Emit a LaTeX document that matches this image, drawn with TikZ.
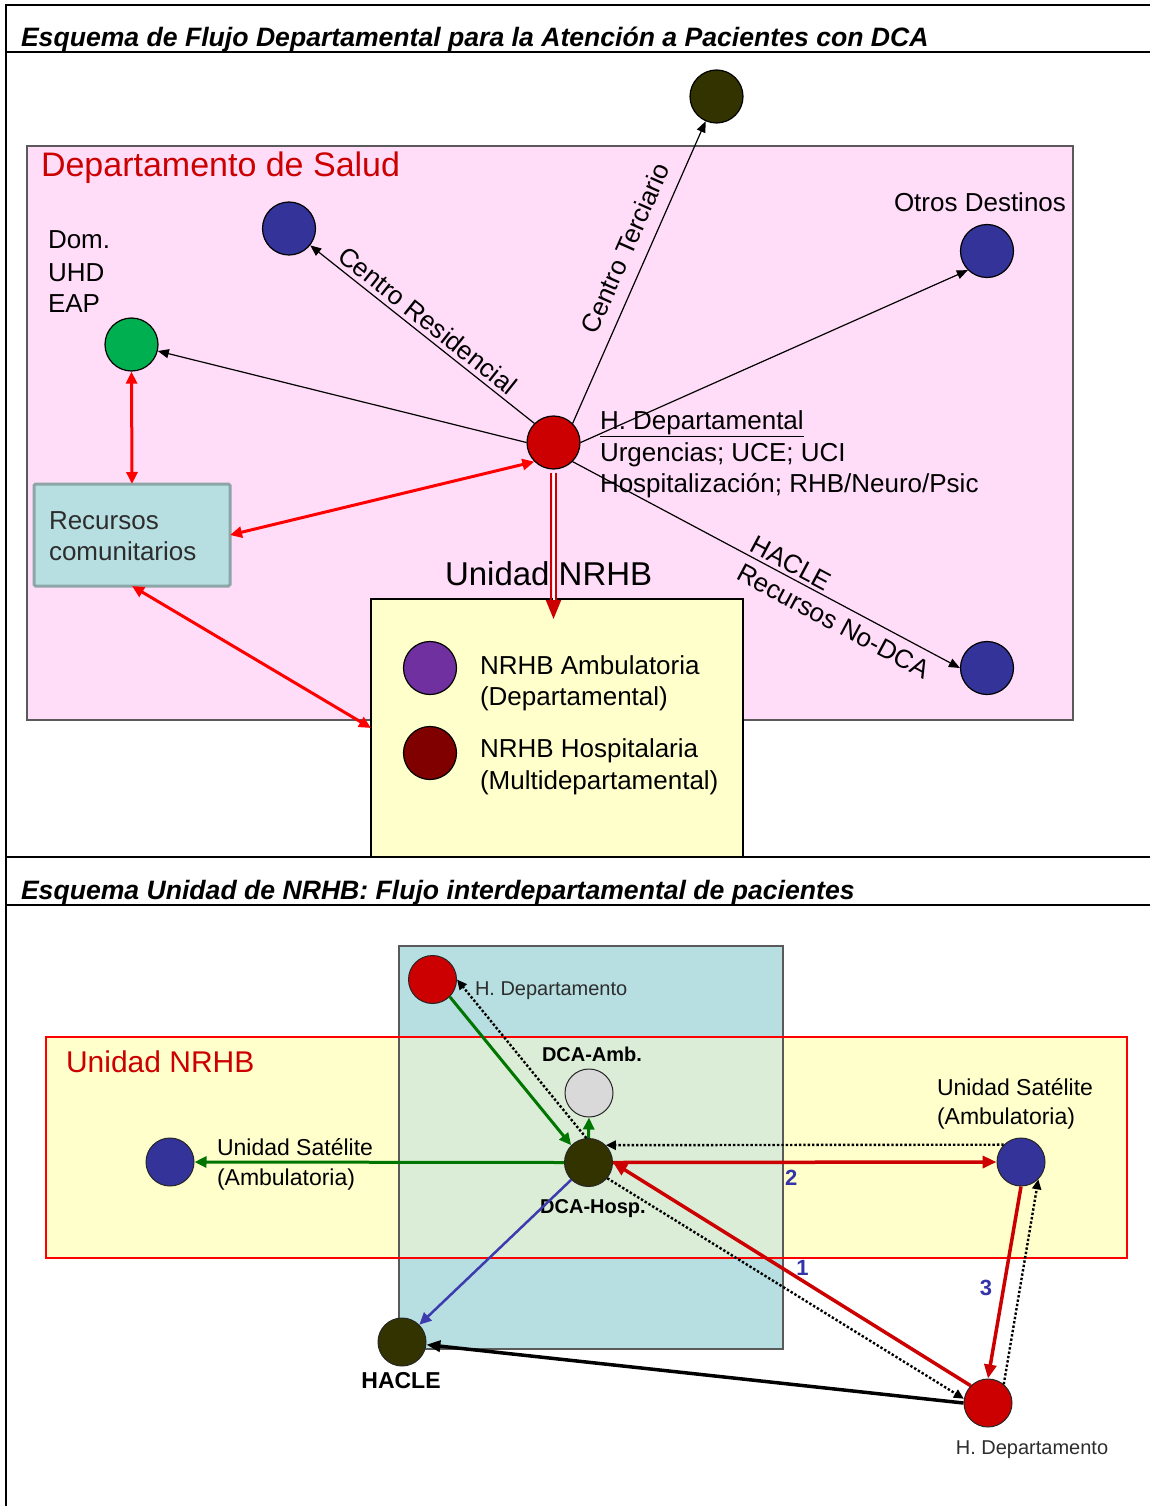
\documentclass[tikz,border=0pt]{standalone}
\usepackage{fontspec}
\setmainfont{Liberation Sans}
\usetikzlibrary{arrows.meta}
\definecolor{pinkbg}{RGB}{255,220,248}
\definecolor{tealbg}{RGB}{183,222,224}
\definecolor{tealbd}{RGB}{140,166,168}
\definecolor{yel}{RGB}{255,255,204}
\definecolor{ovl}{RGB}{219,237,214}
\definecolor{dred}{RGB}{204,0,0}
\definecolor{bred}{RGB}{255,0,0}
\definecolor{navy}{RGB}{51,51,153}
\definecolor{olive}{RGB}{51,51,0}
\definecolor{grn}{RGB}{0,176,80}
\definecolor{purp}{RGB}{112,48,160}
\definecolor{maroon}{RGB}{128,0,0}
\definecolor{lgray}{RGB}{217,217,217}
\definecolor{dgreen}{RGB}{0,118,0}
\definecolor{numblue}{RGB}{51,51,170}
\definecolor{bdgray}{RGB}{90,90,90}
\definecolor{lblue}{RGB}{60,60,175}
\definecolor{txtgray}{RGB}{45,45,45}
\begin{document}
\begin{tikzpicture}[x=1pt,y=-1pt,
  txt/.style={inner sep=0pt, outer sep=0pt},
  f26/.style={txt, font=\fontsize{26}{31}\selectfont},
  f23/.style={txt, font=\fontsize{23}{28}\selectfont},
  f20/.style={txt, font=\fontsize{20}{24}\selectfont, text=txtgray},
  b20/.style={txt, font=\fontsize{20}{24}\selectfont\bfseries},
  num/.style={txt, font=\fontsize{22}{26}\selectfont\bfseries, text=numblue},
  ttl/.style={txt, font=\fontsize{26.6}{31}\selectfont\bfseries\itshape},
  box/.style={rectangle, inner sep=0pt, outer sep=0pt},
  dot/.style={circle, draw=black, line width=1.2pt, inner sep=0pt, minimum size=53pt},
  sdot/.style={circle, draw=black!85, line width=1pt, inner sep=0pt, minimum size=48pt},
  blk/.style={draw=black, line width=1.2pt, -{Triangle[length=11pt,width=9pt]}},
  redarr/.style={draw=bred, line width=3pt, {Triangle[length=12pt,width=11pt]}-{Triangle[length=12pt,width=11pt]}},
  dblside/.style={draw=dred, line width=2pt, shorten <=3pt, shorten >=18pt},
  dblmid/.style={draw=white, line width=2pt, shorten <=3pt, -{Triangle[length=19pt,width=15pt,color=dred]}},
  garr/.style={draw=dgreen, line width=3pt, -{Triangle[length=12pt,width=11pt]}},
  rarr/.style={draw=dred, line width=3.5pt, -{Triangle[length=14pt,width=12pt]}},
  dotarr/.style={draw=black, line width=2.4pt, dash pattern=on 2.4pt off 2pt, -{Triangle[length=10pt,width=9pt]}},
  barr/.style={draw=lblue, line width=2.5pt, -{Triangle[length=12pt,width=11pt]}},
  karr/.style={draw=black, line width=3.5pt, -{Triangle[length=14pt,width=11pt]}}
]
\useasboundingbox (0,0) rectangle (1150,1506);
\fill[white] (0,0) rectangle (1150,1506);

% ---------- frame ----------
\draw[line width=2pt] (1150,5) -- (6,5) -- (6,1506);
\draw[line width=2pt] (6,52) -- (1150,52);
\draw[line width=2pt] (6,857) -- (1150,857);
\draw[line width=2pt] (6,905) -- (1150,905);
\node[ttl, anchor=base west] (t1) at (21,47) {Esquema de Flujo Departamental para la Atención a Pacientes con DCA};
\node[ttl, anchor=base west] (t2) at (21,899) {Esquema Unidad de NRHB: Flujo interdepartamental de pacientes};

% ---------- section 1 ----------
\node[box, draw=bdgray, line width=1.5pt, fill=pinkbg, minimum width=1046pt, minimum height=574pt] (dep) at (550,433) {};
\node[box, draw=black, line width=1.2pt, fill=yel, minimum width=372pt, minimum height=258pt] (nb) at (557,728) {};
\node[box, draw=tealbd, line width=3pt, fill=tealbg, rounded corners=1.5pt, minimum width=196pt, minimum height=102pt] (rc) at (132,535) {};
\coordinate (nbin) at (553.5,619);

\node[txt, anchor=base west, font=\fontsize{34}{40}\selectfont, text=dred] (ldep) at (41,177) {Departamento de Salud};
\node[f26, anchor=base west] (lod) at (894,212) {Otros Destinos};
\node[f26, anchor=base west] (ldom1) at (48,249) {Dom.};
\node[f26, anchor=base west] (ldom2) at (48,281) {UHD};
\node[f26, anchor=base west] (ldom3) at (48,312) {EAP};
\node[f26, anchor=base west] (lhd1) at (600,429) {\underline{H. Departamental}};
\node[f26, anchor=base west] (lhd2) at (600,461) {Urgencias; UCE; UCI};
\node[f26, anchor=base west] (lhd3) at (600,492) {Hospitalización; RHB/Neuro/Psic};
\node[f26, anchor=base west, text=txtgray] (lrc1) at (49,529) {Recursos};
\node[f26, anchor=base west, text=txtgray] (lrc2) at (49,560) {comunitarios};
\node[txt, anchor=base west, font=\fontsize{33}{40}\selectfont] (lnb) at (445,585) {Unidad NRHB};
\node[f26, anchor=base west] (lpu1) at (480,674) {NRHB Ambulatoria};
\node[f26, anchor=base west] (lpu2) at (480,705) {(Departamental)};
\node[f26, anchor=base west] (lmr1) at (480,757) {NRHB Hospitalaria};
\node[f26, anchor=base west] (lmr2) at (480,789) {(Multidepartamental)};

\node[dot, fill=olive] (ct) at (716.5,96.5) {};
\node[dot, fill=navy] (cr) at (289,228.5) {};
\node[dot, fill=navy] (od) at (987,251) {};
\node[dot, fill=grn] (dom) at (131.5,344.5) {};
\node[dot, fill=navy] (hb) at (987,668) {};
\node[dot, fill=purp] (pu) at (430,668) {};
\node[dot, fill=maroon] (mr) at (430,753) {};
\node[dot, fill=dred] (hd) at (553.5,442.5) {};

\draw[blk] (hd.north east) -- node[f26, sloped, pos=0.55, above=13pt] (lct) {Centro Terciario} (ct);
\draw[blk] (hd.north west) -- node[f26, sloped, pos=0.515, above=5pt] (lcr) {Centro Residencial} (cr);
\draw[blk] (hd.west) -- (dom);
\draw[blk] (hd.east) -- (od.south west);
\draw[blk] (hd.south east) -- node[f26, sloped, pos=0.548, above=4pt] (lha) {HACLE} node[f26, sloped, pos=0.696, below=9pt] (lrn) {Recursos No-DCA} (hb.west);

\draw[redarr] (dom.south) -- (rc.north);
\draw[redarr] (rc.east) -- (hd.south west);
\draw[redarr] (rc.south) -- (nb.west);
\draw[dblside, transform canvas={xshift=-2.1pt}] (hd.south) -- (nbin);
\draw[dblside, transform canvas={xshift=2.1pt}] (hd.south) -- (nbin);
\draw[dblmid] (hd.south) -- (nbin);

% ---------- section 2 ----------
\node[box, draw=bdgray, line width=1.2pt, fill=tealbg, minimum width=384pt, minimum height=403pt] (hz) at (591,1147.5) {};
\node[box, draw=bred, line width=1.2pt, fill=yel, minimum width=1081pt, minimum height=221pt] (un) at (586.5,1147.5) {};
\fill[ovl] (399,1037) rectangle (783,1258);
\draw[bdgray, line width=1.2pt] (399,946) rectangle (783,1349);
\draw[bred, line width=1.2pt] (46,1037) rectangle (1127,1258);

\node[txt, anchor=base west, font=\fontsize{30}{36}\selectfont, text=dred] (lun) at (66,1072) {Unidad NRHB};
\node[f20, anchor=base west] (lhdt) at (475,995) {H. Departamento};
\node[b20, anchor=base] (lamb) at (592,1061) {DCA-Amb.};
\node[b20, anchor=base] (lhosp) at (593,1213) {DCA-Hosp.};
\node[f23, anchor=base west] (lrs1) at (937,1095) {Unidad Satélite};
\node[f23, anchor=base west] (lrs2) at (937,1124) {(Ambulatoria)};
\node[f23, anchor=base west] (lls1) at (217,1155) {Unidad Satélite};
\node[f23, anchor=base west] (lls2) at (217,1185) {(Ambulatoria)};
\node[txt, anchor=base, font=\fontsize{23}{28}\selectfont\bfseries] (lhac) at (401,1388) {HACLE};
\node[f20, anchor=base] (lhdb) at (1032,1454) {H. Departamento};

\node[sdot, fill=dred] (hdt) at (432.5,979.5) {};
\node[sdot, fill=lgray] (amb) at (589,1093) {};
\node[sdot, fill=olive] (hosp) at (588.5,1162.5) {};
\node[sdot, fill=navy] (ls) at (170,1162) {};
\node[sdot, fill=navy] (rs) at (1021,1162) {};
\node[sdot, fill=olive] (hac) at (402,1342) {};
\node[sdot, fill=dred] (hdb) at (988,1403) {};

\draw[garr] (hdt.south east) -- (hosp.north west);
\draw[dotarr] (hosp.95) -- (hdt.east);
\draw[garr] (hosp.north) -- (amb.south);
\draw[garr] (hosp.west) -- (ls.east);
\draw[dotarr] (rs.135) -- (hosp.45);
\draw[dotarr] (hosp.-40) -- (hdb.170);
\draw[dotarr] (hdb.50) -- (rs.-45);
\draw[barr] (hosp.south west) -- (hac.north east);
\draw[karr] (hdb.west) -- (hac);
\draw[rarr] (hosp.east) -- node[num, pos=0.465, yshift=-15.7pt] (n2) {2} (rs.west);
\draw[rarr] (hdb.north west) -- node[num, pos=0.487, xshift=6pt, yshift=9pt] (n1) {1} (hosp.east);
\draw[rarr] (rs.south) -- node[num, pos=0.528, xshift=-17.6pt] (n3) {3} (hdb.north);
\end{tikzpicture}
\end{document}
